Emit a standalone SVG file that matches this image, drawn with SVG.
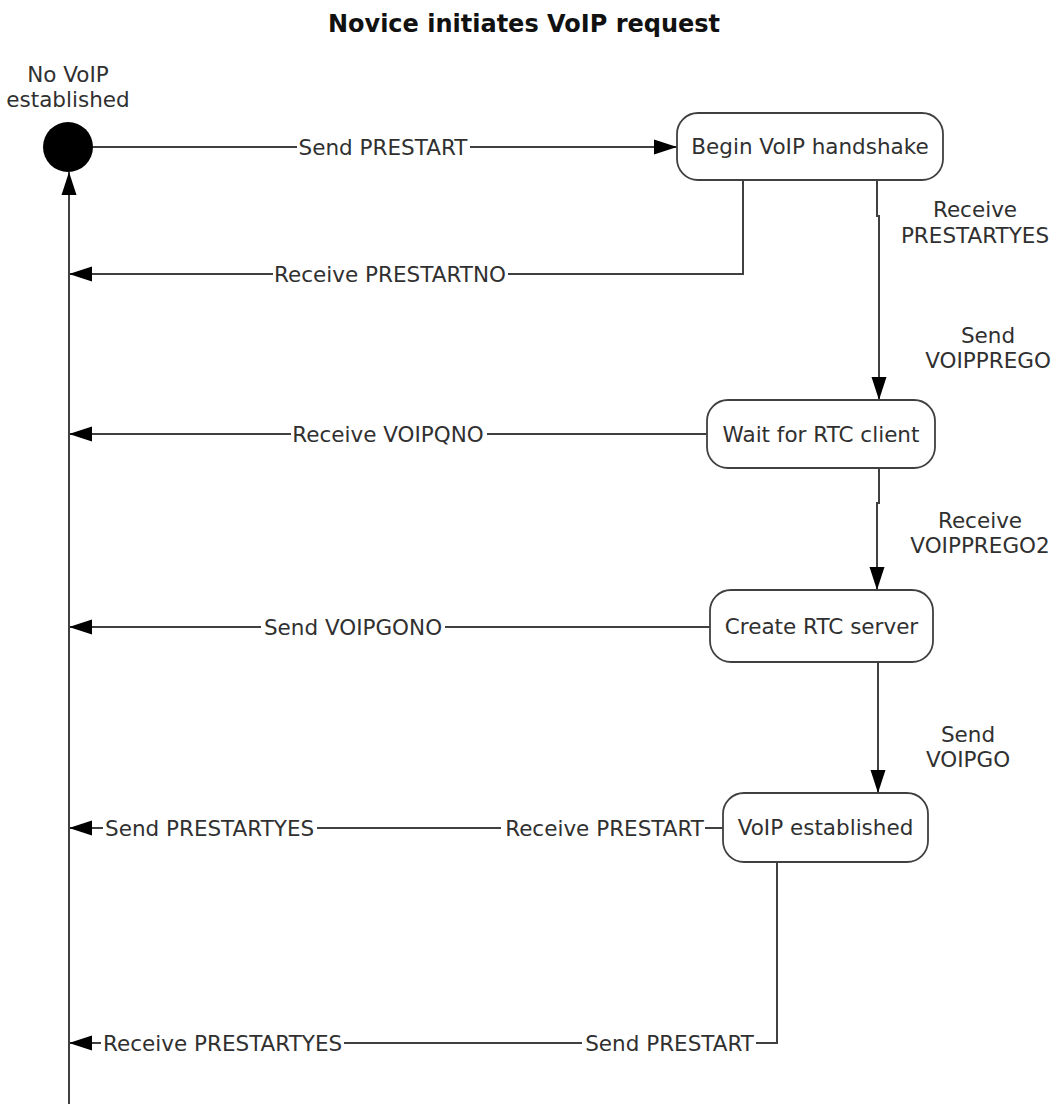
<svg xmlns="http://www.w3.org/2000/svg" width="1059" height="1104" viewBox="0 0 1059 1104">
<style>
  .t { font-family: "DejaVu Sans", Verdana, sans-serif; font-size: 21.5px; fill: #303030; }
  .c { text-anchor: middle; }
  .title { font-family: "DejaVu Sans", Verdana, sans-serif; font-size: 24px; font-weight: bold; fill: #111; text-anchor: middle; }
  .box { fill: #fff; stroke: #404040; stroke-width: 1.8; }
  .ln { fill: none; stroke: #404040; stroke-width: 2; }
  .bg { fill: #fff; }
</style>
<defs>
  <marker id="arr" markerUnits="userSpaceOnUse" markerWidth="24" markerHeight="16" refX="23" refY="8" orient="auto">
    <path d="M0,0.5 L23,8 L0,15.5 z" fill="#000"/>
  </marker>
</defs>
<rect width="1059" height="1104" fill="#fff"/>
<text class="title" x="524" y="32">Novice initiates VoIP request</text>

<g id="connectors">
  <path class="ln" d="M93,147 H677" marker-end="url(#arr)"/>
  <path class="ln" d="M743,180 V274 H69" marker-end="url(#arr)"/>
  <path class="ln" d="M877,180 V216 H879 V400" marker-end="url(#arr)"/>
  <path class="ln" d="M707,434 H69" marker-end="url(#arr)"/>
  <path class="ln" d="M879,468 V503 H877 V590" marker-end="url(#arr)"/>
  <path class="ln" d="M710,627 H69" marker-end="url(#arr)"/>
  <path class="ln" d="M878,662 V793" marker-end="url(#arr)"/>
  <path class="ln" d="M723,828 H69" marker-end="url(#arr)"/>
  <path class="ln" d="M777,862 V1043 H69" marker-end="url(#arr)"/>
  <path class="ln" d="M69,1104 V172" marker-end="url(#arr)"/>

  <rect class="bg" x="297" y="136" width="173" height="24"/>
  <text class="t c" x="383" y="154.5">Send PRESTART</text>
  <rect class="bg" x="273" y="263" width="235" height="24"/>
  <text class="t c" x="390" y="281.5">Receive PRESTARTNO</text>
  <rect class="bg" x="291" y="423" width="196" height="24"/>
  <text class="t c" x="388" y="441.5">Receive VOIPQNO</text>
  <rect class="bg" x="261" y="616" width="184" height="24"/>
  <text class="t c" x="353" y="634.5">Send VOIPGONO</text>
  <rect class="bg" x="103" y="817" width="214" height="24"/>
  <text class="t" x="105" y="835.5">Send PRESTARTYES</text>
  <rect class="bg" x="501" y="817" width="204" height="24"/>
  <text class="t" x="704" y="835.5" text-anchor="end">Receive PRESTART</text>
  <rect class="bg" x="101" y="1032" width="243" height="24"/>
  <text class="t" x="103" y="1050.5">Receive PRESTARTYES</text>
  <rect class="bg" x="582" y="1032" width="174" height="24"/>
  <text class="t" x="754" y="1050.5" text-anchor="end">Send PRESTART</text>

  <text class="t c" x="975" y="217">Receive</text>
  <text class="t c" x="975" y="243">PRESTARTYES</text>
  <text class="t c" x="988" y="343">Send</text>
  <text class="t c" x="988" y="368">VOIPPREGO</text>
  <text class="t c" x="980" y="528">Receive</text>
  <text class="t c" x="980" y="553">VOIPPREGO2</text>
  <text class="t c" x="968" y="742">Send</text>
  <text class="t c" x="968" y="767">VOIPGO</text>
</g>

<g id="start">
  <circle cx="68" cy="147" r="25" fill="#000"/>
  <text class="t c" x="68" y="82">No VoIP</text>
  <text class="t c" x="68" y="107">established</text>
</g>
<g id="begin">
  <rect class="box" x="677" y="113" width="266" height="67" rx="21"/>
  <text class="t c" x="810" y="154">Begin VoIP handshake</text>
</g>
<g id="wait">
  <rect class="box" x="707" y="400" width="228" height="68" rx="21"/>
  <text class="t c" x="821" y="441.5">Wait for RTC client</text>
</g>
<g id="create">
  <rect class="box" x="710" y="590" width="223" height="72" rx="21"/>
  <text class="t c" x="821.5" y="633.5">Create RTC server</text>
</g>
<g id="established">
  <rect class="box" x="723" y="793" width="205" height="69" rx="21"/>
  <text class="t c" x="825.5" y="835">VoIP established</text>
</g>
</svg>
